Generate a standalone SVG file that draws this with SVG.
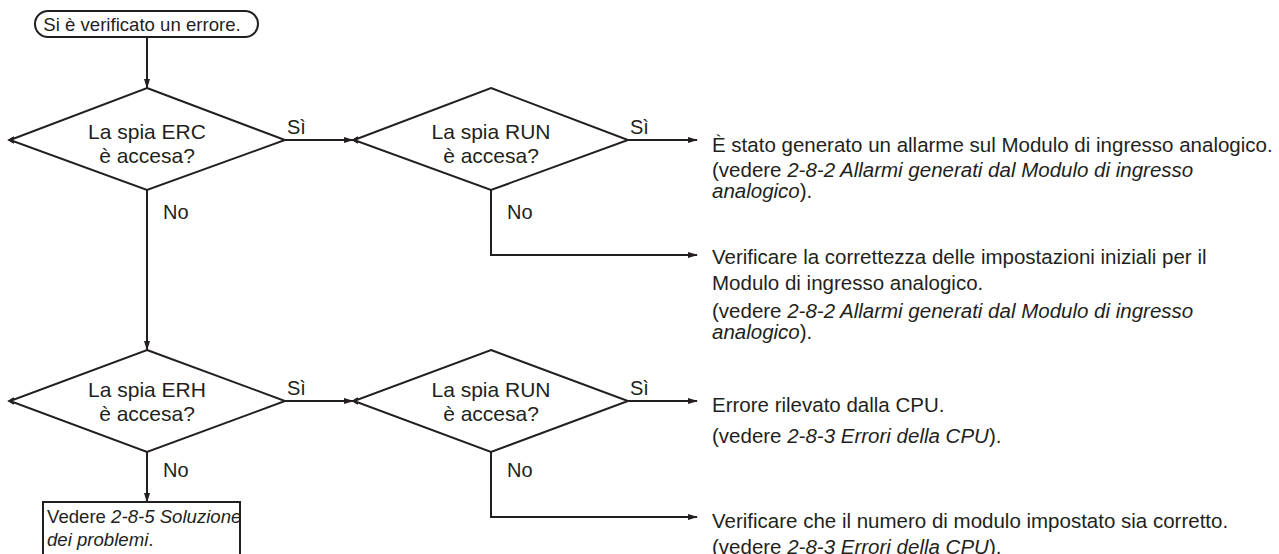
<svg xmlns="http://www.w3.org/2000/svg" width="1279" height="554" viewBox="0 0 1279 554">
<style>
text{font-family:"Liberation Sans",Arial,sans-serif;font-size:21px;fill:#231f20}
.c{text-anchor:middle}
.i{font-style:italic}
.s{font-size:18.6px}
.l{font-size:20px}
.r{font-size:20.5px}
.shape{fill:#fff;stroke:#231f20;stroke-width:2}
.line{fill:none;stroke:#231f20;stroke-width:2}
.tick{fill:none;stroke:#231f20;stroke-width:1.5}
</style>
<defs>
<marker id="ah" markerWidth="10" markerHeight="8" refX="9" refY="4" orient="auto" markerUnits="userSpaceOnUse">
<path d="M0,1 L10,4 L0,7 Z" fill="#231f20"/>
</marker>
</defs>
<rect width="1279" height="554" fill="#fff"/>
<g id="connectors">
<line class="line" x1="147" y1="37" x2="147" y2="88" marker-end="url(#ah)"/>
<line class="line" x1="285" y1="140" x2="353" y2="140" marker-end="url(#ah)"/>
<line class="line" x1="628" y1="140" x2="697" y2="140" marker-end="url(#ah)"/>
<polyline class="line" points="491,190 491,255 697,255" marker-end="url(#ah)"/>
<line class="line" x1="147" y1="190" x2="147" y2="350" marker-end="url(#ah)"/>
<line class="line" x1="285" y1="401" x2="353" y2="401" marker-end="url(#ah)"/>
<line class="line" x1="628" y1="401" x2="697" y2="401" marker-end="url(#ah)"/>
<polyline class="line" points="491,452 491,517 697,517" marker-end="url(#ah)"/>
<line class="line" x1="147" y1="452" x2="147" y2="502" marker-end="url(#ah)"/>
<text class="l" x="287" y="134">Sì</text>
<text class="l" x="630" y="134">Sì</text>
<text class="l" x="287" y="395">Sì</text>
<text class="l" x="630" y="395">Sì</text>
<text class="l" x="163" y="219">No</text>
<text class="l" x="507" y="219">No</text>
<text class="l" x="163" y="477">No</text>
<text class="l" x="507" y="477">No</text>
</g>
<g id="start">
<rect class="shape" x="35" y="11" width="223" height="26" rx="13"/>
<text class="c s" x="142" y="31">Si è verificato un errore.</text>
</g>
<g id="d1">
<polygon class="shape" points="147,88 285,140 147,190 10,140"/>
<polyline class="tick" points="14,137 9,140 14,143"/>
<text class="c" x="147" y="139">La spia ERC</text>
<text class="c" x="147" y="163">è accesa?</text>
</g>
<g id="d2">
<polygon class="shape" points="491,88 628,140 491,190 354,140"/>
<polyline class="tick" points="358,137 353,140 358,143"/>
<text class="c" x="491" y="139">La spia RUN</text>
<text class="c" x="491" y="163">è accesa?</text>
</g>
<g id="d3">
<polygon class="shape" points="147,350 285,401 147,452 10,401"/>
<polyline class="tick" points="14,398 9,401 14,404"/>
<text class="c" x="147" y="397">La spia ERH</text>
<text class="c" x="147" y="421">è accesa?</text>
</g>
<g id="d4">
<polygon class="shape" points="491,350 628,401 491,452 354,401"/>
<polyline class="tick" points="358,398 353,401 358,404"/>
<text class="c" x="491" y="397">La spia RUN</text>
<text class="c" x="491" y="421">è accesa?</text>
</g>
<g id="r1">
<text class="r" x="712" y="152">È stato generato un allarme sul Modulo di ingresso analogico.</text>
<text class="r" x="712" y="177">(vedere <tspan class="i">2-8-2 Allarmi generati dal Modulo di ingresso</tspan></text>
<text class="r" x="712" y="198"><tspan class="i">analogico</tspan>).</text>
</g>
<g id="r2">
<text class="r" x="712" y="264">Verificare la correttezza delle impostazioni iniziali per il</text>
<text class="r" x="712" y="290">Modulo di ingresso analogico.</text>
<text class="r" x="712" y="318">(vedere <tspan class="i">2-8-2 Allarmi generati dal Modulo di ingresso</tspan></text>
<text class="r" x="712" y="339"><tspan class="i">analogico</tspan>).</text>
</g>
<g id="r3">
<text class="r" x="712" y="412">Errore rilevato dalla CPU.</text>
<text class="r" x="712" y="443">(vedere <tspan class="i">2-8-3 Errori della CPU</tspan>).</text>
</g>
<g id="r4">
<text class="r" x="712" y="528">Verificare che il numero di modulo impostato sia corretto.</text>
<text class="r" x="712" y="554">(vedere <tspan class="i">2-8-3 Errori della CPU</tspan>).</text>
</g>
<g id="end">
<rect class="shape" x="43" y="502" width="197" height="60"/>
<text class="s" x="47" y="523">Vedere <tspan class="i">2-8-5 Soluzione</tspan></text>
<text class="s" x="47" y="546"><tspan class="i">dei problemi</tspan>.</text>
</g>
</svg>
